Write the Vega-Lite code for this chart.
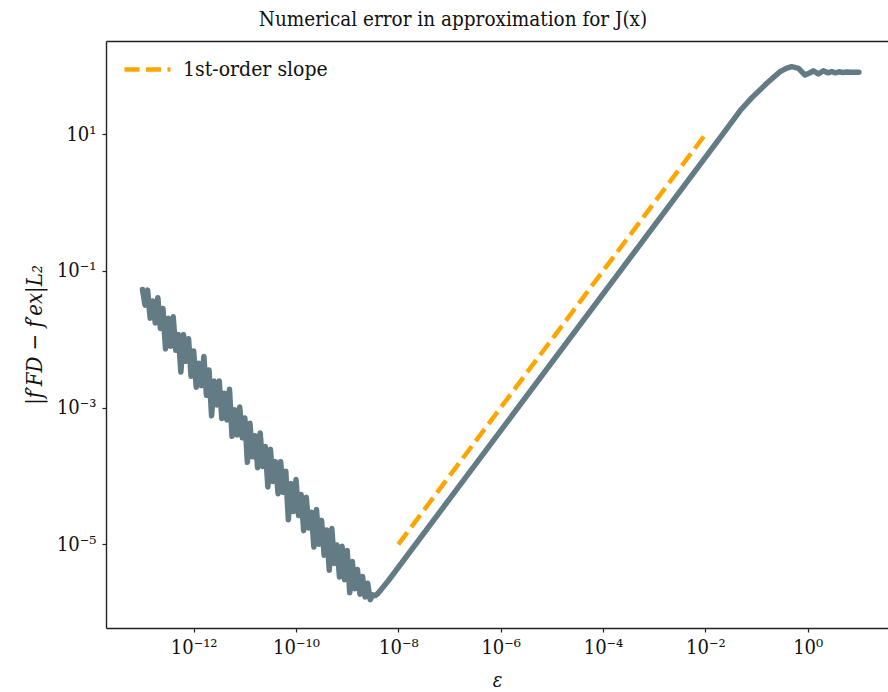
{
  "$schema": "https://vega.github.io/schema/vega-lite/v6.json",
  "width": 782,
  "height": 587,
  "autosize": {"type": "none"},
  "padding": {"left": 106, "top": 41, "right": 0, "bottom": 64},
  "background": "white",
  "config": {
    "view": {"stroke": null},
    "font": "DejaVu Serif Condensed, DejaVu Serif",
    "axis": {"labelFont": "DejaVu Serif Condensed, DejaVu Serif", "titleFont": "DejaVu Serif Condensed, DejaVu Serif", "labelColor": "#111", "titleColor": "#111", "tickColor": "#222", "domainColor": "#222", "grid": false}
  },
  "title": {"text": "Numerical error in approximation for J(x)", "font": "DejaVu Serif Condensed, DejaVu Serif", "fontSize": 20.5, "fontWeight": "normal", "color": "#111", "anchor": "middle", "dx": -44, "offset": 11},
  "datasets": {
    "err": [
      {"eps": 1e-13, "err": 5.370e-2},
      {"eps": 1.122e-13, "err": 3.162e-2},
      {"eps": 1.259e-13, "err": 5.248e-2},
      {"eps": 1.413e-13, "err": 2.042e-2},
      {"eps": 1.585e-13, "err": 3.631e-2},
      {"eps": 1.778e-13, "err": 1.738e-2},
      {"eps": 1.995e-13, "err": 4.074e-2},
      {"eps": 2.239e-13, "err": 1.445e-2},
      {"eps": 2.512e-13, "err": 2.818e-2},
      {"eps": 2.818e-13, "err": 7.244e-3},
      {"eps": 3.162e-13, "err": 2.042e-2},
      {"eps": 3.548e-13, "err": 7.943e-3},
      {"eps": 3.981e-13, "err": 2.138e-2},
      {"eps": 4.467e-13, "err": 6.918e-3},
      {"eps": 5.012e-13, "err": 1.175e-2},
      {"eps": 5.623e-13, "err": 3.311e-3},
      {"eps": 6.310e-13, "err": 1.175e-2},
      {"eps": 7.079e-13, "err": 4.786e-3},
      {"eps": 7.943e-13, "err": 1.023e-2},
      {"eps": 8.913e-13, "err": 2.884e-3},
      {"eps": 1e-12, "err": 6.761e-3},
      {"eps": 1.122e-12, "err": 1.995e-3},
      {"eps": 1.259e-12, "err": 4.467e-3},
      {"eps": 1.413e-12, "err": 2.089e-3},
      {"eps": 1.585e-12, "err": 5.623e-3},
      {"eps": 1.778e-12, "err": 1.514e-3},
      {"eps": 1.995e-12, "err": 3.548e-3},
      {"eps": 2.239e-12, "err": 7.586e-4},
      {"eps": 2.512e-12, "err": 2.455e-3},
      {"eps": 2.818e-12, "err": 1.096e-3},
      {"eps": 3.162e-12, "err": 2.455e-3},
      {"eps": 3.548e-12, "err": 6.918e-4},
      {"eps": 3.981e-12, "err": 1.622e-3},
      {"eps": 4.467e-12, "err": 6.607e-4},
      {"eps": 5.012e-12, "err": 1.862e-3},
      {"eps": 5.623e-12, "err": 3.802e-4},
      {"eps": 6.310e-12, "err": 9.333e-4},
      {"eps": 7.079e-12, "err": 3.981e-4},
      {"eps": 7.943e-12, "err": 1.023e-3},
      {"eps": 8.913e-12, "err": 3.631e-4},
      {"eps": 1e-11, "err": 7.079e-4},
      {"eps": 1.122e-11, "err": 1.585e-4},
      {"eps": 1.259e-11, "err": 5.888e-4},
      {"eps": 1.413e-11, "err": 1.905e-4},
      {"eps": 1.585e-11, "err": 3.890e-4},
      {"eps": 1.778e-11, "err": 1.318e-4},
      {"eps": 1.995e-11, "err": 4.266e-4},
      {"eps": 2.239e-11, "err": 1.380e-4},
      {"eps": 2.512e-11, "err": 2.692e-4},
      {"eps": 2.818e-11, "err": 6.918e-5},
      {"eps": 3.162e-11, "err": 2.455e-4},
      {"eps": 3.548e-11, "err": 8.318e-5},
      {"eps": 3.981e-11, "err": 1.622e-4},
      {"eps": 4.467e-11, "err": 5.495e-5},
      {"eps": 5.012e-11, "err": 1.622e-4},
      {"eps": 5.623e-11, "err": 5.754e-5},
      {"eps": 6.310e-11, "err": 1.175e-4},
      {"eps": 7.079e-11, "err": 2.291e-5},
      {"eps": 7.943e-11, "err": 7.762e-5},
      {"eps": 8.913e-11, "err": 3.020e-5},
      {"eps": 1e-10, "err": 8.913e-5},
      {"eps": 1.122e-10, "err": 2.630e-5},
      {"eps": 1.259e-10, "err": 5.370e-5},
      {"eps": 1.413e-10, "err": 1.585e-5},
      {"eps": 1.585e-10, "err": 4.898e-5},
      {"eps": 1.778e-10, "err": 1.738e-5},
      {"eps": 1.995e-10, "err": 2.951e-5},
      {"eps": 2.239e-10, "err": 9.120e-6},
      {"eps": 2.512e-10, "err": 3.236e-5},
      {"eps": 2.818e-10, "err": 1.000e-5},
      {"eps": 3.162e-10, "err": 2.239e-5},
      {"eps": 3.548e-10, "err": 6.918e-6},
      {"eps": 3.981e-10, "err": 1.622e-5},
      {"eps": 4.467e-10, "err": 4.169e-6},
      {"eps": 5.012e-10, "err": 1.698e-5},
      {"eps": 5.623e-10, "err": 5.248e-6},
      {"eps": 6.310e-10, "err": 9.772e-6},
      {"eps": 7.079e-10, "err": 3.311e-6},
      {"eps": 7.943e-10, "err": 9.333e-6},
      {"eps": 8.913e-10, "err": 3.020e-6},
      {"eps": 1e-9, "err": 8.128e-6},
      {"eps": 1.122e-9, "err": 1.950e-6},
      {"eps": 1.259e-9, "err": 5.623e-6},
      {"eps": 1.413e-9, "err": 2.239e-6},
      {"eps": 1.585e-9, "err": 4.266e-6},
      {"eps": 1.778e-9, "err": 1.862e-6},
      {"eps": 1.995e-9, "err": 3.388e-6},
      {"eps": 2.239e-9, "err": 1.698e-6},
      {"eps": 2.512e-9, "err": 2.692e-6},
      {"eps": 2.818e-9, "err": 1.549e-6},
      {"eps": 3.162e-9, "err": 1.820e-6},
      {"eps": 3.548e-9, "err": 1.778e-6},
      {"eps": 3.981e-9, "err": 1.905e-6},
      {"eps": 5.012e-9, "err": 2.344e-6},
      {"eps": 6.310e-9, "err": 2.904e-6},
      {"eps": 5.012e-3, "err": 2.307},
      {"eps": 9.120e-3, "err": 4.198},
      {"eps": 1.995e-2, "err": 9.18},
      {"eps": 3.162e-2, "err": 14.55},
      {"eps": 4.753e-2, "err": 22.13},
      {"eps": 7.943e-2, "err": 33.88},
      {"eps": 0.1585, "err": 55.85},
      {"eps": 0.2884, "err": 82.60},
      {"eps": 0.3802, "err": 92.26},
      {"eps": 0.4864, "err": 97.72},
      {"eps": 0.6607, "err": 92.47},
      {"eps": 0.8851, "err": 73.79},
      {"eps": 1.109, "err": 79.43},
      {"eps": 1.288, "err": 85.11},
      {"eps": 1.611, "err": 76.38},
      {"eps": 2.018, "err": 85.11},
      {"eps": 2.512, "err": 79.43},
      {"eps": 2.951, "err": 83.18},
      {"eps": 3.467, "err": 79.43},
      {"eps": 4.074, "err": 82.22},
      {"eps": 4.786, "err": 80.35},
      {"eps": 5.754, "err": 81.66},
      {"eps": 7.079, "err": 80.91},
      {"eps": 8.511, "err": 81.28},
      {"eps": 10, "err": 81.28}
    ],
    "slope": [
      {"eps": 1e-8, "err": 1e-5, "series": "1st-order slope"},
      {"eps": 1e-2, "err": 10, "series": "1st-order slope"}
    ]
  },
  "layer": [
    {
      "data": {"name": "err"},
      "mark": {"type": "line", "color": "#637b85", "strokeWidth": 5.5, "strokeJoin": "round", "strokeCap": "round", "clip": true},
      "encoding": {
        "x": {"field": "eps", "type": "quantitative", "sort": null,
          "scale": {"type": "log", "domain": [1.936e-14, 37.07], "nice": false, "zero": false},
          "axis": {"orient": "bottom", "values": [1e-12, 1e-10, 1e-8, 1e-6, 1e-4, 1e-2, 1], "title": "ε", "titleFontSize": 20, "titleFontStyle": "italic", "titleFontWeight": "normal", "titlePadding": 13, "labelFontSize": 20, "tickSize": 4, "tickWidth": 1.2, "domainWidth": 1.4, "labelPadding": 5,
            "labelExpr": "'10' + (log(datum.value)/LN10 < -0.5 ? '⁻' : '') + (abs(round(log(datum.value)/LN10)) >= 10 ? '¹' : '') + ['⁰','¹','²','³','⁴','⁵','⁶','⁷','⁸','⁹'][abs(round(log(datum.value)/LN10)) % 10]"}},
        "y": {"field": "err", "type": "quantitative",
          "scale": {"type": "log", "domain": [5.957e-7, 232.3], "nice": false, "zero": false},
          "axis": {"values": [1e-5, 1e-3, 1e-1, 10], "title": "|f′FD − f′ex|L₂", "titleFontSize": 22, "titleFontStyle": "italic", "titleFontWeight": "normal", "titlePadding": 10, "labelFontSize": 20, "tickSize": 4, "tickWidth": 1.2, "domainWidth": 1.4, "labelPadding": 6,
            "labelExpr": "'10' + (log(datum.value)/LN10 < -0.5 ? '⁻' : '') + (abs(round(log(datum.value)/LN10)) >= 10 ? '¹' : '') + ['⁰','¹','²','³','⁴','⁵','⁶','⁷','⁸','⁹'][abs(round(log(datum.value)/LN10)) % 10]"}}
      }
    },
    {
      "data": {"name": "slope"},
      "mark": {"type": "line", "strokeWidth": 4.5, "strokeDash": [15, 6.5], "strokeCap": "butt"},
      "encoding": {
        "x": {"field": "eps", "type": "quantitative", "scale": {"type": "log", "domain": [1.936e-14, 37.07], "nice": false, "zero": false},
          "axis": {"orient": "top", "labels": false, "ticks": false, "title": null, "grid": false, "domain": true, "domainWidth": 1.4}},
        "y": {"field": "err", "type": "quantitative"},
        "color": {"field": "series", "type": "nominal",
          "scale": {"domain": ["1st-order slope"], "range": ["#FFA500"]},
          "legend": {"orient": "none", "legendX": 16, "legendY": 3, "title": null, "symbolType": "stroke", "symbolSize": 2116, "symbolStrokeWidth": 4.5, "symbolDash": [15, 6.5], "labelFont": "DejaVu Serif Condensed, DejaVu Serif", "labelFontSize": 21, "labelColor": "#111", "labelOffset": 10}}
      }
    }
  ],
  "resolve": {"axis": {"x": "independent"}}
}
